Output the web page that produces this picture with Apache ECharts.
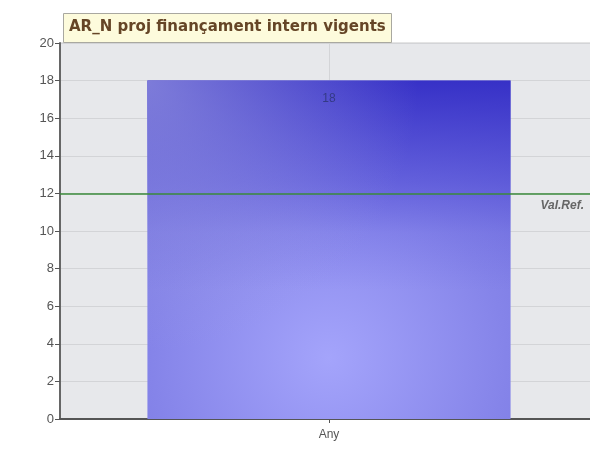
<!DOCTYPE html>
<html>
<head>
<meta charset="utf-8">
<script src="https://cdn.jsdelivr.net/npm/echarts@6/dist/echarts.min.js"></script>
<style>html,body{margin:0;padding:0;background:#fff;}#c{width:590px;height:452px;}</style>
</head>
<body>
<div id="c"></div>
<script>
const titleText = "AR_N proj finançament intern vigents";
const categories = ["Any"];
const values = [18];
const refValue = 12;
const refLabel = "Val.Ref.";
const yTicks = { min: 0, max: 20, interval: 2 };

function shadeBar(color, extra) {
  return Object.assign({
    type: 'bar',
    data: values,
    barWidth: '67.5%',
    barGap: '-100%',
    silent: true,
    itemStyle: { color: color }
  }, extra || {});
}

const chart = echarts.init(document.getElementById('c'), null, { renderer: 'canvas' });
chart.setOption({
  backgroundColor: '#ffffff',
  animation: false,
  title: {
    text: titleText,
    left: 63, top: 13,
    padding: [7, 6, 8, 6],
    backgroundColor: '#fdfbdc',
    borderColor: '#a9a8a0',
    borderWidth: 1,
    textStyle: { fontFamily: 'DejaVu Sans', fontWeight: 'bold', fontSize: 15, color: '#654526' }
  },
  grid: { left: 60, width: 538, top: 43, bottom: 33, outerBoundsMode: 'none', containLabel: false, show: true, backgroundColor: '#e7e8eb', borderColor: '#c8c8c8', borderWidth: 1 },
  xAxis: [{
    type: 'category', data: categories,
    axisLine: { show: true, onZero: false, lineStyle: { color: '#555', width: 2 } },
    axisTick: { show: true, alignWithLabel: true, length: 4, lineStyle: { color: '#555' } },
    axisLabel: { color: '#555', fontSize: 12, fontFamily: 'Liberation Sans', margin: 10 },
    splitLine: { show: false }
  }, {
    type: 'value', min: -1, max: 1, interval: 1, position: 'top',
    axisLine: { show: false, onZero: false }, axisTick: { show: false }, axisLabel: { show: false },
    splitLine: { show: true, lineStyle: { color: '#d3d4d7', width: 1 } }
  }],
  yAxis: {
    type: 'value', min: yTicks.min, max: yTicks.max, interval: yTicks.interval,
    axisLine: { show: true, onZero: false, lineStyle: { color: '#666', width: 2 } },
    axisTick: { show: true, length: 5, lineStyle: { color: '#555' } },
    axisLabel: { color: '#555', fontSize: 13, fontFamily: 'Liberation Sans', margin: 6 },
    splitLine: { show: true, lineStyle: { color: '#d3d4d7', width: 1 } }
  },
  series: [
    shadeBar({
      type: 'radial', x: 0.5, y: 0.82, r: 0.95,
      colorStops: [
        { offset: 0, color: '#a4a4fb' },
        { offset: 0.55, color: '#8584e9' },
        { offset: 1, color: '#716fdd' }
      ]
    }, {
      barGap: '0%',
      silent: false,
      markLine: {
        silent: true,
        symbol: 'none',
        data: [{ yAxis: refValue }],
        lineStyle: { color: '#3a8a3a', width: 1.5, type: 'solid' },
        label: { show: true, position: 'insideEndBottom', formatter: refLabel, color: '#666', fontStyle: 'italic', fontWeight: 'bold', fontSize: 12, fontFamily: 'Liberation Sans', distance: [14, 6] }
      }
    }),
    shadeBar({
      type: 'linear', x: 0, y: 0, x2: 0, y2: 1,
      colorStops: [
        { offset: 0, color: 'rgba(48,42,196,0.9)' },
        { offset: 0.3, color: 'rgba(60,55,205,0.45)' },
        { offset: 0.45, color: 'rgba(60,55,205,0.12)' },
        { offset: 0.62, color: 'rgba(60,55,205,0)' },
        { offset: 1, color: 'rgba(60,55,205,0)' }
      ]
    }),
    shadeBar({
      type: 'radial', x: 0, y: 0, r: 0.8,
      colorStops: [
        { offset: 0, color: 'rgba(155,155,225,0.7)' },
        { offset: 1, color: 'rgba(155,155,225,0)' }
      ]
    }, {
      label: { show: true, position: 'insideTop', distance: 12, color: '#343a86', fontSize: 12, fontFamily: 'Liberation Sans' }
    })
  ]
});
</script>
</body>
</html>
